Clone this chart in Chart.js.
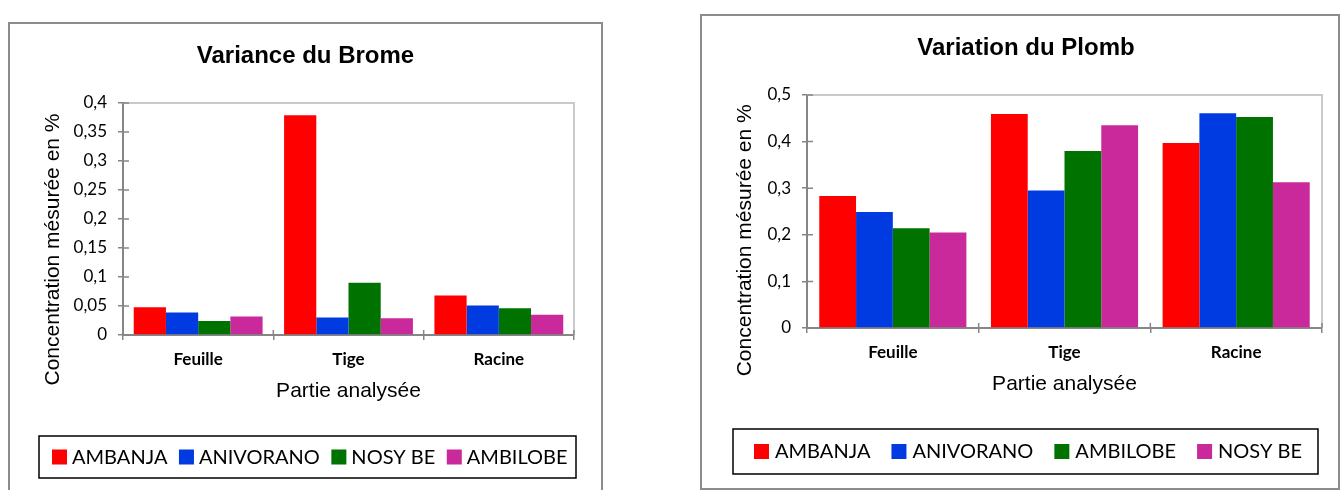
<!DOCTYPE html>
<html>
<head>
<meta charset="utf-8">
<script src="https://cdn.jsdelivr.net/npm/chart.js@4.4.1/dist/chart.umd.min.js"></script>
<style>
  html, body { margin: 0; padding: 0; background: #fff; width: 1343px; height: 490px; overflow: hidden; }
  .frame { position: absolute; box-sizing: border-box; border: 2px solid #8c8c8c; background: #fff; }
  #f1 { left: 8px; top: 22px; width: 595px; height: 482px; }
  #f2 { left: 700px; top: 14px; width: 640px; height: 476px; }
  .frame canvas { display: block; }
</style>
</head>
<body>
<div class="frame" id="f1"><canvas id="brome" width="591" height="478"></canvas></div>
<div class="frame" id="f2"><canvas id="plomb" width="636" height="472"></canvas></div>
<script>
// Parties de la plante analysées
const categories = ['Feuille', 'Tige', 'Racine'];

// Brome (%), par site
const bromeSites = ['AMBANJA', 'ANIVORANO', 'NOSY BE', 'AMBILOBE'];
const bromeAmbanja   = [0.048, 0.379, 0.068];
const bromeAnivorano = [0.039, 0.030, 0.051];
const bromeNosyBe    = [0.024, 0.090, 0.046];
const bromeAmbilobe  = [0.032, 0.029, 0.035];

// Plomb (%), par site
const plombSites = ['AMBANJA', 'ANIVORANO', 'AMBILOBE', 'NOSY BE'];
const plombAmbanja   = [0.283, 0.459, 0.397];
const plombAnivorano = [0.249, 0.295, 0.461];
const plombAmbilobe  = [0.214, 0.380, 0.453];
const plombNosyBe    = [0.205, 0.435, 0.313];

const SERIES_COLORS = ['#FF0000', '#003BE1', '#007200', '#C9299A'];
const AXIS_GREY = '#868686';
const ARIAL = "'Liberation Sans', Arial, sans-serif";
const LATO = "Lato, 'Open Sans', sans-serif";

Chart.defaults.font.family = LATO;
Chart.defaults.color = '#000';

// decimal comma, as in French
const frNumber = v => String(Math.round(v * 1000) / 1000).replace('.', ',');

// light frame on top/right of the plot area + inner half of the cross tick marks
const plotFrame = {
  id: 'plotFrame',
  beforeDatasetsDraw(chart) {
    const { ctx, chartArea: a, scales: { x, y } } = chart;
    ctx.save();
    ctx.strokeStyle = '#c9c9c9';
    ctx.lineWidth = 2;
    ctx.beginPath();
    ctx.moveTo(a.left, a.top);
    ctx.lineTo(a.right, a.top);
    ctx.lineTo(a.right, a.bottom);
    ctx.stroke();
    ctx.strokeStyle = AXIS_GREY;
    ctx.lineWidth = 1.5;
    ctx.beginPath();
    y.ticks.forEach(t => {
      const p = y.getPixelForValue(t.value);
      ctx.moveTo(a.left, p);
      ctx.lineTo(a.left + 6, p);
    });
    for (let i = 0; i <= x.ticks.length; i++) {
      const p = x.getPixelForValue(i - 0.5);
      ctx.moveTo(p, a.bottom);
      ctx.lineTo(p, a.bottom - 5);
    }
    ctx.stroke();
    ctx.restore();
  }
};

// rotated value-axis title
const sideTitle = {
  id: 'sideTitle',
  afterDraw(chart, args, o) {
    const { ctx, chartArea: a } = chart;
    ctx.save();
    ctx.translate(o.x, (a.top + a.bottom) / 2 + o.shift);
    ctx.rotate(-Math.PI / 2);
    ctx.font = o.font;
    ctx.fillStyle = '#000';
    ctx.textAlign = 'center';
    ctx.textBaseline = 'middle';
    ctx.fillText(o.text, 0, 0);
    ctx.restore();
  }
};

// legend row framed by a thin black rectangle
const boxLegend = {
  id: 'boxLegend',
  afterDraw(chart, args, o) {
    const ctx = chart.ctx;
    ctx.save();
    ctx.strokeStyle = '#000';
    ctx.lineWidth = 1.5;
    ctx.strokeRect(o.left, o.top, o.width, o.height);
    ctx.font = o.font;
    ctx.textAlign = 'left';
    ctx.textBaseline = 'middle';
    const cy = o.top + o.height / 2;
    let x = o.start;
    chart.data.datasets.forEach(ds => {
      ctx.fillStyle = ds.backgroundColor;
      ctx.fillRect(x, cy - o.box / 2, o.box, o.box);
      x += o.box + o.textGap;
      ctx.fillStyle = '#000';
      ctx.fillText(ds.label, x, cy + 0.5);
      x += ctx.measureText(ds.label).width + o.itemGap;
    });
    ctx.restore();
  }
};

function buildChart(canvasId, cfg) {
  return new Chart(document.getElementById(canvasId), {
    type: 'bar',
    data: {
      labels: categories,
      datasets: cfg.series.map((values, i) => ({
        label: cfg.sites[i],
        data: values,
        backgroundColor: SERIES_COLORS[i],
        borderWidth: 0,
        categoryPercentage: 0.857,
        barPercentage: 1
      }))
    },
    options: {
      responsive: false,
      animation: false,
      devicePixelRatio: 1,
      layout: { padding: cfg.padding },
      plugins: {
        legend: { display: false },
        tooltip: { enabled: false },
        title: {
          display: true,
          text: cfg.title,
          color: '#000',
          font: { family: ARIAL, size: 24, weight: 'bold' },
          padding: cfg.titlePadding
        },
        sideTitle: {
          text: 'Concentration mésurée en %',
          font: '21px ' + ARIAL,
          x: 43.5,
          shift: cfg.sideShift
        },
        boxLegend: cfg.legend
      },
      scales: {
        x: {
          grid: { display: true, drawOnChartArea: false, drawTicks: true, tickLength: 5, color: AXIS_GREY, lineWidth: 1.5 },
          border: { display: true, color: AXIS_GREY, width: 2 },
          ticks: { color: '#000', padding: 9.5, font: { size: 17, weight: 'bold' } },
          title: {
            display: true,
            text: 'Partie analysée',
            color: '#000',
            font: { family: ARIAL, size: 21 },
            padding: { top: 0, bottom: 11.5 }
          },
          afterFit: s => { s.height = 80; }
        },
        y: {
          min: 0,
          max: cfg.max,
          grid: { display: true, drawOnChartArea: false, drawTicks: true, tickLength: 5, color: AXIS_GREY, lineWidth: 1.5 },
          border: { display: true, color: AXIS_GREY, width: 2 },
          ticks: { stepSize: cfg.step, color: '#000', padding: 11, font: { size: 17 }, callback: frNumber },
          afterFit: s => { s.width = cfg.yWidth; }
        }
      }
    },
    plugins: [plotFrame, sideTitle, boxLegend]
  });
}

buildChart('brome', {
  title: 'Variance du Brome',
  sites: bromeSites,
  series: [bromeAmbanja, bromeAnivorano, bromeNosyBe, bromeAmbilobe],
  max: 0.4,
  step: 0.05,
  padding: { left: 27, right: 27, top: 0, bottom: 87 },
  titlePadding: { top: 17.6, bottom: 32.6 },
  yWidth: 86,
  sideShift: 30.5,
  legend: { left: 29, top: 412, width: 537, height: 42, start: 42, box: 15, textGap: 5, itemGap: 11.5, font: '20px ' + LATO }
});

buildChart('plomb', {
  title: 'Variation du Plomb',
  sites: plombSites,
  series: [plombAmbanja, plombAnivorano, plombAmbilobe, plombNosyBe],
  max: 0.5,
  step: 0.1,
  padding: { left: 28, right: 16, top: 0, bottom: 80 },
  titlePadding: { top: 18.1, bottom: 32.1 },
  yWidth: 77,
  sideShift: 28.8,
  legend: { left: 31, top: 413, width: 585, height: 45, start: 52, box: 15, textGap: 6, itemGap: 21, font: '20px ' + LATO }
});
</script>
</body>
</html>
